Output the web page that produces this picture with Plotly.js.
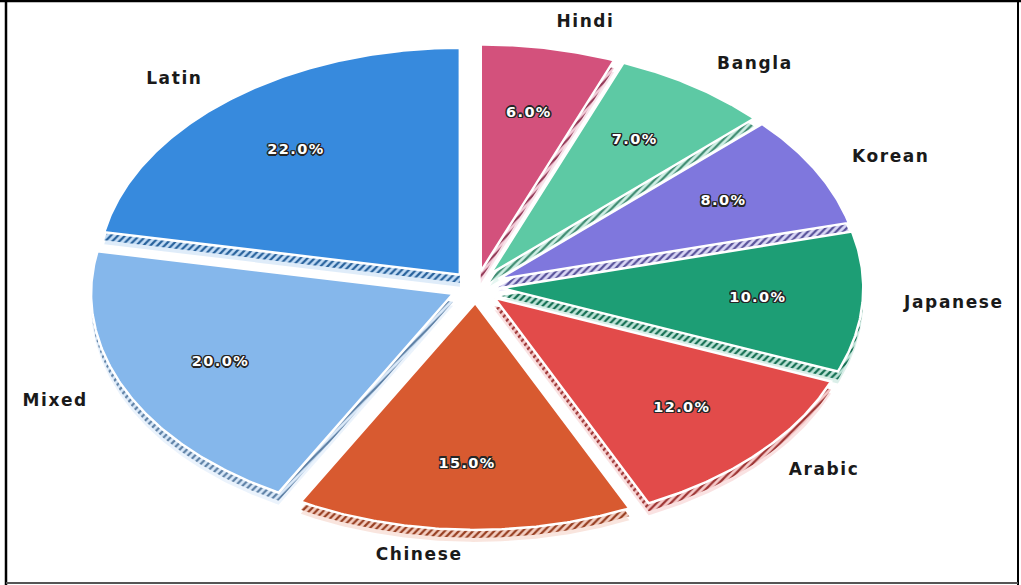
<!DOCTYPE html>
<html>
<head>
<meta charset="utf-8">
<script src="https://cdn.plot.ly/plotly-3.0.1.min.js"></script>
<style>
  html, body { margin: 0; padding: 0; background: #fff; }
  #chart { width: 1021px; height: 585px; }
  .lbl .textpoint text { letter-spacing: 1.6px; }
  .pct .textpoint text { letter-spacing: 1.4px; }
</style>
</head>
<body>
<div id="chart"></div>
<script>
// ---- data ----
const labels = ['Hindi', 'Bangla', 'Korean', 'Japanese', 'Arabic', 'Chinese', 'Mixed', 'Latin'];
const values = [6, 7, 8, 10, 12, 15, 20, 22];
const colors = ['#d3517c', '#5dc9a4', '#7f77dd', '#1d9e75', '#e24b4a', '#d85a30', '#85b7eb', '#378add'];

// ---- geometry (pixels of the figure) ----
const W = 1021, H = 585;
const CX = 476, CY = 287, RX = 362, RY = 227;
const EXPLODE = 0.07, PCTDIST = 0.71, LABELDIST = 1.115;
const SHADOW_DY = 8 / RY;

function shade(hex, f) {
  const n = parseInt(hex.slice(1), 16);
  let r = (n >> 16) & 255, g = (n >> 8) & 255, b = n & 255;
  if (f < 0) { r = r * (1 + f); g = g * (1 + f); b = b * (1 + f); }
  else { r = r + (255 - r) * f; g = g + (255 - g) * f; b = b + (255 - b) * f; }
  return 'rgb(' + Math.round(r) + ',' + Math.round(g) + ',' + Math.round(b) + ')';
}

const total = values.reduce((a, b) => a + b, 0);
const shadowTraces = [], wedgeTraces = [];
const pctX = [], pctY = [], pctT = [];
const lblR = { x: [], y: [], t: [] }, lblL = { x: [], y: [], t: [] };

let cum = 0;
values.forEach((v, i) => {
  const t1 = 90 - cum / total * 360;
  const t2 = 90 - (cum + v) / total * 360;
  cum += v;
  const tm = (t1 + t2) / 2 * Math.PI / 180;
  const ox = EXPLODE * Math.cos(tm), oy = EXPLODE * Math.sin(tm);
  const xs = [ox], ys = [oy];
  const n = Math.max(12, Math.round(Math.abs(t1 - t2) * 2));
  for (let k = 0; k <= n; k++) {
    const a = (t1 + (t2 - t1) * k / n) * Math.PI / 180;
    xs.push(ox + Math.cos(a));
    ys.push(oy + Math.sin(a));
  }
  xs.push(ox); ys.push(oy);

  // soft glow of the shadow
  shadowTraces.push({
    type: 'scatter', mode: 'lines', x: xs, y: ys.map(y => y - SHADOW_DY * 1.5),
    fill: 'toself', fillcolor: shade(colors[i], 0.6), line: { width: 0 },
    opacity: 0.4, hoverinfo: 'skip', showlegend: false
  });
  // hatched shadow
  shadowTraces.push({
    type: 'scatter', mode: 'lines', x: xs, y: ys.map(y => y - SHADOW_DY),
    fill: 'toself', fillcolor: shade(colors[i], 0.6),
    fillpattern: { shape: '/', fgcolor: shade(colors[i], -0.3), bgcolor: shade(colors[i], 0.7), size: 5, solidity: 0.45 },
    line: { width: 0 }, hoverinfo: 'skip', showlegend: false
  });
  wedgeTraces.push({
    type: 'scatter', mode: 'lines', x: xs, y: ys,
    fill: 'toself', fillcolor: colors[i], line: { color: '#ffffff', width: 2.5 },
    hoverinfo: 'skip', showlegend: false
  });

  pctX.push(ox + PCTDIST * Math.cos(tm));
  pctY.push(oy + PCTDIST * Math.sin(tm));
  pctT.push((v / total * 100).toFixed(1) + '%');

  const lx = ox + LABELDIST * Math.cos(tm), ly = oy + LABELDIST * Math.sin(tm);
  const tgt = Math.cos(tm) >= 0 ? lblR : lblL;
  tgt.x.push(lx); tgt.y.push(ly); tgt.t.push(labels[i]);
});

const lblFont = { family: 'DejaVu Sans', size: 17, color: '#1a1a1a', weight: 'bold' };
const oc = '#262626';
const outline = ['-1.2px -1.2px', '1.2px -1.2px', '-1.2px 1.2px', '1.2px 1.2px', '0 1.5px', '0 -1.5px', '1.5px 0', '-1.5px 0']
  .map(s => s + ' 0 ' + oc).join(', ');

const textTraces = [
  { type: 'scatter', mode: 'text', x: pctX, y: pctY, text: pctT, textposition: 'middle center',
    textfont: { family: 'DejaVu Sans', size: 14.5, color: '#ffffff', weight: 'bold', shadow: outline },
    hoverinfo: 'skip', showlegend: false, name: 'pct' },
  { type: 'scatter', mode: 'text', x: lblR.x, y: lblR.y, text: lblR.t, textposition: 'middle right',
    textfont: lblFont, hoverinfo: 'skip', showlegend: false, name: 'lblR' },
  { type: 'scatter', mode: 'text', x: lblL.x, y: lblL.y, text: lblL.t, textposition: 'middle left',
    textfont: lblFont, hoverinfo: 'skip', showlegend: false, name: 'lblL' }
];

const layout = {
  width: W, height: H,
  margin: { l: 0, r: 0, t: 0, b: 0 },
  paper_bgcolor: '#ffffff', plot_bgcolor: '#ffffff',
  showlegend: false, hovermode: false,
  xaxis: { range: [-CX / RX, (W - CX) / RX], visible: false, fixedrange: true },
  yaxis: { range: [-(H - CY) / RY, CY / RY], visible: false, fixedrange: true },
  shapes: [
    { type: 'line', xref: 'paper', yref: 'paper', x0: 0, x1: 1, y0: 1 - 1 / H, y1: 1 - 1 / H, line: { color: '#000', width: 2.5 } },
    { type: 'line', xref: 'paper', yref: 'paper', x0: 6 / W, x1: 6 / W, y0: 0, y1: 1, line: { color: '#000', width: 2.5 } },
    { type: 'line', xref: 'paper', yref: 'paper', x0: 1018 / W, x1: 1018 / W, y0: 0, y1: 1, line: { color: '#000', width: 2 } },
    { type: 'line', xref: 'paper', yref: 'paper', x0: 6 / W, x1: 1018 / W, y0: 2 / H, y1: 2 / H, line: { color: '#555', width: 2 } }
  ]
};

Plotly.newPlot('chart', shadowTraces.concat(wedgeTraces, textTraces), layout, { staticPlot: true, displayModeBar: false })
  .then(gd => {
    const groups = gd.querySelectorAll('.scatterlayer .trace');
    const nT = groups.length;
    groups[nT - 3].classList.add('pct');
    groups[nT - 2].classList.add('lbl');
    groups[nT - 1].classList.add('lbl');
  });
</script>
</body>
</html>
